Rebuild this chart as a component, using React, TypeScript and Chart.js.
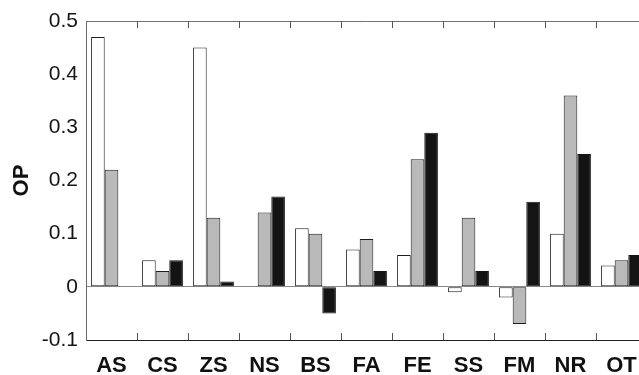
import React, { useEffect, useRef } from "react";
import { Chart, registerables } from "chart.js";

Chart.register(...registerables);

const categories = ["AS", "CS", "ZS", "NS", "BS", "FA", "FE", "SS", "FM", "NR", "OT"];
const seriesWhite = [0.47, 0.05, 0.45, 0, 0.11, 0.07, 0.06, -0.01, -0.02, 0.1, 0.04];
const seriesGray = [0.22, 0.03, 0.13, 0.14, 0.1, 0.09, 0.24, 0.13, -0.07, 0.36, 0.05];
const seriesBlack = [0, 0.05, 0.01, 0.17, -0.05, 0.03, 0.29, 0.03, 0.16, 0.25, 0.06];
const yTicks = [-0.1, 0, 0.1, 0.2, 0.3, 0.4, 0.5];

const FONT = "'Liberation Sans', Arial, Helvetica, sans-serif";

const frameTicks = {
  id: "frameTicks",
  afterDraw(chart: any) {
    const { ctx, chartArea, scales } = chart;
    const { top, bottom, left, right } = chartArea;
    const x = scales.x;
    ctx.save();
    ctx.lineWidth = 1;
    ctx.strokeStyle = "#707070";
    ctx.beginPath();
    ctx.moveTo(left, Math.round(top) + 0.5);
    ctx.lineTo(right, Math.round(top) + 0.5);
    ctx.stroke();
    const half = (x.getPixelForValue(1) - x.getPixelForValue(0)) / 2;
    ctx.strokeStyle = "#555555";
    ctx.beginPath();
    for (let i = 1; i <= categories.length; i++) {
      const px = Math.round(x.getPixelForValue(i) - half) + 0.5;
      ctx.moveTo(px, top);
      ctx.lineTo(px, top + 7);
      ctx.moveTo(px, bottom);
      ctx.lineTo(px, bottom - 7);
    }
    ctx.stroke();
    ctx.restore();
  },
};

export default function App() {
  const ref = useRef<HTMLCanvasElement | null>(null);
  useEffect(() => {
    if (!ref.current) return;
    const chart = new Chart(ref.current, {
      type: "bar",
      data: {
        labels: categories,
        datasets: [
          { data: seriesWhite, backgroundColor: "#ffffff", borderColor: "#1e1e1e", borderWidth: 1, borderSkipped: false },
          { data: seriesGray, backgroundColor: "#b9b9b9", borderColor: "#1e1e1e", borderWidth: 1, borderSkipped: false },
          { data: seriesBlack, backgroundColor: "#141414", borderColor: "#141414", borderWidth: 1, borderSkipped: false },
        ],
      },
      options: {
        responsive: false,
        animation: false,
        events: [],
        layout: { padding: { top: 21, right: 13, bottom: 0, left: 0 } },
        datasets: { bar: { categoryPercentage: 0.8, barPercentage: 1.0 } },
        plugins: { legend: { display: false }, tooltip: { enabled: false }, title: { display: false } },
        scales: {
          x: {
            grid: { display: false, drawTicks: false },
            border: { display: true, color: "#222222", width: 1 },
            ticks: { color: "#111111", padding: 13, font: { family: FONT, size: 22, weight: "bold" }, maxRotation: 0, autoSkip: false },
            afterFit: (s: any) => { s.height = 35; },
          },
          y: {
            min: -0.1,
            max: 0.5,
            afterBuildTicks: (s: any) => { s.ticks = yTicks.map((v) => ({ value: v })); },
            grid: {
              drawTicks: false,
              color: (c: any) => (c.tick && c.tick.value === 0 ? "#8a8a8a" : "rgba(0,0,0,0)"),
              lineWidth: 1,
            },
            border: { display: true, color: "#6a6a6a", width: 1 },
            ticks: {
              color: "#151515",
              padding: 8,
              font: { family: FONT, size: 21 },
              callback: (v: any) => String(Math.round(Number(v) * 10) / 10),
            },
            title: {
              display: true,
              text: "OP",
              color: "#111111",
              font: { family: FONT, size: 22, weight: "bold" },
              padding: { top: 9, bottom: 0 },
            },
            afterFit: (s: any) => { s.width = 86; },
          },
        },
      },
      plugins: [frameTicks],
    });
    return () => chart.destroy();
  }, []);
  return (
    <div style={{ position: "fixed", left: 0, top: 0, width: 639, height: 375, overflow: "hidden", background: "#fff" }}>
      <canvas ref={ref} width={660} height={375} style={{ display: "block", width: 660, height: 375 }} />
    </div>
  );
}
